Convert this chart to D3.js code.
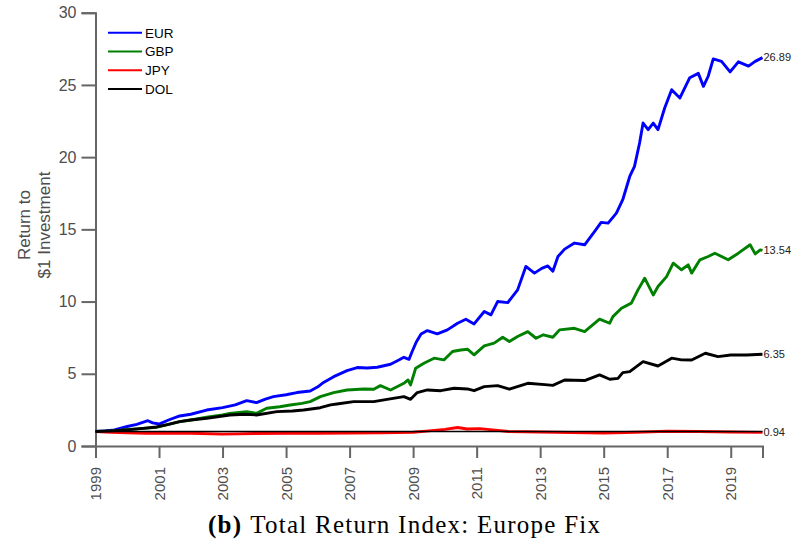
<!DOCTYPE html>
<html>
<head>
<meta charset="utf-8">
<script src="https://cdn.jsdelivr.net/npm/d3@7"></script>
<style>
  html, body { margin: 0; padding: 0; background: #fff; }
  svg { display: block; }
</style>
</head>
<body>
<svg id="chart" width="800" height="542"></svg>
<script>
// ---------------- DATA ----------------
const seriesNames = ["EUR", "GBP", "JPY", "DOL"];
const seriesColors = ["#0000ff", "#008000", "#ff0000", "#000000"];

const eurYears = [1999.0,1999.3,1999.6,2000.0,2000.3,2000.65,2000.8,2001.0,2001.3,2001.65,2002.0,2002.5,2003.0,2003.4,2003.76,2004.07,2004.35,2004.6,2005.0,2005.34,2005.76,2006.0,2006.18,2006.5,2006.92,2007.24,2007.55,2007.87,2008.29,2008.55,2008.71,2008.87,2008.97,2009.1,2009.25,2009.45,2009.76,2010.08,2010.4,2010.66,2010.92,2011.24,2011.45,2011.66,2011.98,2012.29,2012.55,2012.82,2013.05,2013.24,2013.4,2013.56,2013.77,2014.08,2014.4,2014.71,2014.92,2015.14,2015.4,2015.6,2015.82,2015.97,2016.13,2016.24,2016.4,2016.56,2016.71,2016.92,2017.14,2017.4,2017.71,2017.98,2018.14,2018.29,2018.45,2018.71,2018.98,2019.24,2019.56,2019.77,2020.0];
const eurValues = [1.00,1.05,1.12,1.35,1.50,1.75,1.60,1.52,1.80,2.08,2.20,2.49,2.66,2.85,3.14,3.00,3.25,3.42,3.55,3.70,3.81,4.10,4.40,4.80,5.22,5.43,5.40,5.45,5.66,5.95,6.14,6.00,6.54,7.20,7.75,7.99,7.76,8.04,8.50,8.78,8.45,9.31,9.08,10.00,9.93,10.81,12.43,11.97,12.30,12.47,12.10,13.12,13.63,14.05,13.93,14.85,15.48,15.43,16.12,17.05,18.66,19.36,20.98,22.36,21.90,22.36,21.90,23.40,24.67,24.10,25.50,25.80,24.90,25.60,26.80,26.63,25.90,26.60,26.30,26.63,26.89];

const gbpYears = [1999.0,1999.5,2000.07,2000.5,2000.92,2001.3,2001.65,2002.0,2002.5,2003.0,2003.23,2003.76,2004.07,2004.39,2004.8,2005.13,2005.5,2005.76,2006.08,2006.5,2006.92,2007.45,2007.76,2007.97,2008.29,2008.71,2008.84,2008.92,2009.08,2009.34,2009.66,2009.97,2010.24,2010.5,2010.71,2010.92,2011.24,2011.55,2011.82,2012.03,2012.29,2012.61,2012.87,2013.1,2013.4,2013.61,2014.08,2014.4,2014.87,2015.19,2015.29,2015.56,2015.87,2016.08,2016.29,2016.56,2016.71,2016.98,2017.19,2017.45,2017.66,2017.77,2018.03,2018.29,2018.5,2018.92,2019.24,2019.61,2019.77,2019.93,2020.0];
const gbpValues = [1.00,1.05,1.15,1.22,1.29,1.50,1.69,1.80,1.99,2.15,2.26,2.38,2.26,2.61,2.72,2.84,2.95,3.07,3.42,3.70,3.88,3.95,3.93,4.18,3.88,4.34,4.57,4.23,5.38,5.73,6.08,5.96,6.54,6.65,6.70,6.31,6.93,7.12,7.53,7.23,7.58,7.92,7.46,7.70,7.53,8.04,8.15,7.92,8.78,8.50,8.96,9.54,9.89,10.81,11.62,10.46,11.04,11.73,12.66,12.20,12.54,11.97,12.89,13.12,13.35,12.89,13.35,13.93,13.30,13.58,13.54];

const jpyYears = [1999.0,1999.5,2000.0,2000.6,2001.0,2002.0,2003.0,2003.5,2004.0,2005.0,2006.0,2007.0,2008.0,2009.0,2009.5,2010.0,2010.4,2010.7,2011.1,2011.5,2012.0,2013.0,2014.0,2015.0,2016.0,2017.0,2018.0,2019.0,2020.0];
const jpyValues = [1.00,0.95,0.92,0.88,0.88,0.88,0.82,0.84,0.87,0.88,0.88,0.90,0.92,0.95,1.05,1.15,1.28,1.18,1.20,1.12,1.00,0.97,0.93,0.90,0.95,1.02,1.00,0.97,0.94];

const dolYears = [1999.0,1999.5,2000.07,2000.5,2000.92,2001.3,2001.65,2002.0,2002.5,2003.23,2003.7,2004.07,2004.71,2005.2,2005.55,2006.08,2006.4,2006.6,2007.13,2007.76,2008.18,2008.71,2008.92,2009.13,2009.45,2009.87,2010.29,2010.71,2010.92,2011.24,2011.66,2012.03,2012.61,2013.24,2013.4,2013.77,2014.4,2014.87,2015.19,2015.45,2015.6,2015.82,2016.24,2016.71,2017.14,2017.45,2017.77,2018.2,2018.6,2019.0,2019.5,2020.0];
const dolValues = [1.00,1.05,1.13,1.22,1.32,1.50,1.69,1.80,1.92,2.15,2.20,2.15,2.38,2.42,2.49,2.65,2.85,2.91,3.07,3.07,3.23,3.42,3.23,3.70,3.88,3.83,4.00,3.95,3.83,4.11,4.18,3.93,4.34,4.23,4.20,4.57,4.53,4.92,4.62,4.68,5.08,5.15,5.84,5.54,6.08,5.96,5.95,6.42,6.19,6.30,6.30,6.35];

const endLabels = ["26.89", "13.54", "0.94", "6.35"];
const referenceLevel = 1;

const yTicks = [0, 5, 10, 15, 20, 25, 30];
const xTicks = [1999, 2001, 2003, 2005, 2007, 2009, 2011, 2013, 2015, 2017, 2019];

const yLabelLines = ["Return to", "$1 Investment"];
const titleBold = "(b)";
const titleText = "Total Return Index: Europe Fix";

// ---------------- CHART ----------------
const svg = d3.select("#chart");
const x = d3.scaleLinear().domain([1999, 2020]).range([95.5, 762.5]);
const y = d3.scaleLinear().domain([0, 30]).range([446, 12.7]);

const axisColor = "#666666";
const labelColor = "#4d4d4d";

const seriesData = [
  { years: eurYears, values: eurValues },
  { years: gbpYears, values: gbpValues },
  { years: jpyYears, values: jpyValues },
  { years: dolYears, values: dolValues }
].map((s, i) => ({
  name: seriesNames[i],
  color: seriesColors[i],
  label: endLabels[i],
  points: s.years.map((yr, j) => ({ t: yr, v: s.values[j] }))
}));

const line = d3.line().x(d => x(d.t)).y(d => y(d.v));

// Axes
const yAxis = d3.axisLeft(y).tickValues(yTicks).tickSize(14).tickPadding(5).tickFormat(d3.format("d"));
const gy = svg.append("g").attr("transform", `translate(${x(1999)},0)`).call(yAxis);
const xAxis = d3.axisBottom(x).tickValues(xTicks).tickSize(12).tickFormat(d3.format("d"));
const gx = svg.append("g").attr("transform", `translate(0,${y(0)})`).call(xAxis);

[gx, gy].forEach(g => {
  g.select(".domain").attr("stroke", axisColor).attr("stroke-width", 2);
  g.selectAll(".tick line").attr("stroke", axisColor).attr("stroke-width", 2);
  g.selectAll(".tick text").attr("fill", labelColor).attr("font-family", "Liberation Sans, Arial, sans-serif");
});
gy.selectAll(".tick text").attr("font-size", 16);
gx.selectAll(".tick text")
  .attr("font-size", 15)
  .attr("transform", "rotate(-90)")
  .attr("text-anchor", "end")
  .attr("x", -21)
  .attr("y", 0)
  .attr("dy", "0.35em");

// Lines: EUR, GBP, JPY, then reference, then DOL
const plot = svg.append("g");
const drawSeries = s => plot.append("path")
  .datum(s.points)
  .attr("fill", "none")
  .attr("stroke", s.color)
  .attr("stroke-width", 2.9)
  .attr("stroke-linejoin", "round")
  .attr("d", line);

drawSeries(seriesData[0]);
drawSeries(seriesData[1]);
drawSeries(seriesData[2]);
plot.append("line")
  .attr("x1", x(1999)).attr("x2", x(2020))
  .attr("y1", y(referenceLevel)).attr("y2", y(referenceLevel))
  .attr("stroke", "#000").attr("stroke-width", 1.5);
drawSeries(seriesData[3]);

// End labels
seriesData.forEach(s => {
  const last = s.points[s.points.length - 1];
  svg.append("text")
    .attr("x", x(last.t) + 1)
    .attr("y", y(last.v))
    .attr("dy", "0.35em")
    .attr("font-family", "Liberation Sans, Arial, sans-serif")
    .attr("font-size", 11)
    .attr("fill", "#222")
    .text(s.label);
});

// Legend
const legend = svg.append("g");
seriesData.forEach((s, i) => {
  const ly = 32.7 + i * 18.8;
  legend.append("line")
    .attr("x1", 108).attr("x2", 142)
    .attr("y1", ly).attr("y2", ly)
    .attr("stroke", s.color).attr("stroke-width", 2);
  legend.append("text")
    .attr("x", 145).attr("y", ly)
    .attr("dy", "0.36em")
    .attr("font-family", "Liberation Sans, Arial, sans-serif")
    .attr("font-size", 13.5)
    .attr("fill", "#000")
    .text(s.name);
});

// Y label
const yl = svg.append("text")
  .attr("transform", "translate(0,225) rotate(-90)")
  .attr("text-anchor", "middle")
  .attr("font-family", "Liberation Sans, Arial, sans-serif")
  .attr("font-size", 17)
  .attr("fill", labelColor);
yl.append("tspan").attr("x", 0).attr("y", 30).text(yLabelLines[0]);
yl.append("tspan").attr("x", 0).attr("y", 50).text(yLabelLines[1]);

// Title
const title = svg.append("text")
  .attr("x", 208).attr("y", 533)
  .attr("text-anchor", "start")
  .attr("textLength", 392)
  .attr("lengthAdjust", "spacing")
  .attr("font-family", "Liberation Serif, Times New Roman, serif")
  .attr("font-size", 25)
  .attr("fill", "#000");
title.append("tspan").attr("font-weight", "bold").text(titleBold);
title.append("tspan").attr("dx", 8).text(titleText);
</script>
</body>
</html>
